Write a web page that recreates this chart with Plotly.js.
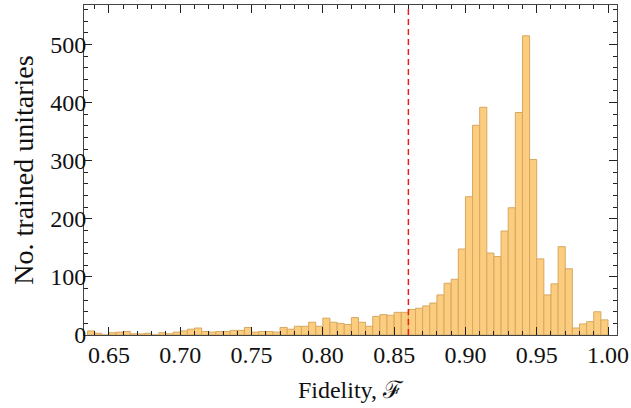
<!DOCTYPE html>
<html>
<head>
<meta charset="utf-8">
<script src="https://cdn.plot.ly/plotly-3.0.1.min.js"></script>
<style>html,body{margin:0;padding:0;background:#fff;}#chart{width:631px;height:408px;}</style>
</head>
<body>
<div id="chart"></div>
<script>
// Left edges of the histogram bins (bin width 0.005)
const binStarts = [
  0.635, 0.640, 0.645, 0.650, 0.655, 0.660, 0.665, 0.670, 0.675, 0.680,
  0.685, 0.690, 0.695, 0.700, 0.705, 0.710, 0.715, 0.720, 0.725, 0.730,
  0.735, 0.740, 0.745, 0.750, 0.755, 0.760, 0.765, 0.770, 0.775, 0.780,
  0.785, 0.790, 0.795, 0.800, 0.805, 0.810, 0.815, 0.820, 0.825, 0.830,
  0.835, 0.840, 0.845, 0.850, 0.855, 0.860, 0.865, 0.870, 0.875, 0.880,
  0.885, 0.890, 0.895, 0.900, 0.905, 0.910, 0.915, 0.920, 0.925, 0.930,
  0.935, 0.940, 0.945, 0.950, 0.955, 0.960, 0.965, 0.970, 0.975, 0.980,
  0.985, 0.990, 0.995
];
const binWidth = 0.005;
// Number of trained unitaries in each bin
const counts = [
  7, 3, 0, 4, 5, 6, 2, 2, 3, 0,
  4, 2, 5, 7, 10, 12, 6, 5, 6, 6,
  8, 8, 13, 5, 6, 6, 5, 13, 10, 15,
  15, 22, 15, 29, 22, 20, 18, 30, 22, 15,
  32, 35, 34, 39, 39, 44, 46, 50, 55, 69,
  89, 96, 148, 238, 361, 392, 141, 135, 179, 219,
  383, 515, 302, 131, 69, 88, 152, 114, 12, 19,
  23, 40, 26
];
// Threshold fidelity (dashed line)
const thresholdFidelity = [0.86];

const xTickVals = [0.65, 0.70, 0.75, 0.80, 0.85, 0.90, 0.95, 1.00];
const xTickText = ["0.65", "0.70", "0.75", "0.80", "0.85", "0.90", "0.95", "1.00"];
const yTickVals = [0, 100, 200, 300, 400, 500];
const yTickText = ["0", "100", "200", "300", "400", "500"];

const FONT = "'Liberation Serif', 'DejaVu Serif', serif";

const trace = {
  type: 'bar',
  x: binStarts,
  y: counts,
  width: binStarts.map(() => binWidth),
  offset: 0,
  marker: {
    color: 'rgb(252,205,126)',
    line: {color: 'rgb(214,168,96)', width: 1}
  },
  hoverinfo: 'x+y'
};

const axisCommon = {
  showline: true,
  linecolor: '#444',
  linewidth: 1,
  mirror: 'allticks',
  ticks: 'inside',
  tickcolor: '#222',
  tickwidth: 1,
  ticklen: 8,
  showgrid: false,
  zeroline: false,
  tickfont: {family: FONT, size: 24, color: '#111'}
};

const layout = {
  width: 631,
  height: 408,
  margin: {l: 84, r: 14, t: 5, b: 73},
  paper_bgcolor: '#fff',
  plot_bgcolor: '#fff',
  showlegend: false,
  bargap: 0,
  xaxis: Object.assign({}, axisCommon, {
    range: [0.6325, 1.0063],
    tickmode: 'array',
    tickvals: xTickVals,
    ticktext: xTickText,
    ticklabelstandoff: -2,
    minor: {dtick: 0.01, tick0: 0.65, ticks: 'inside', ticklen: 4, tickcolor: '#222', tickwidth: 1, showgrid: false},
    title: {text: 'Fidelity, ℱ', font: {family: FONT, size: 24, color: '#111'}, standoff: 14}
  }),
  yaxis: Object.assign({}, axisCommon, {
    range: [0, 568],
    tickmode: 'array',
    tickvals: yTickVals,
    ticktext: yTickText,
    ticklabelstandoff: -8,
    minor: {dtick: 20, tick0: 0, ticks: 'inside', ticklen: 4, tickcolor: '#222', tickwidth: 1, showgrid: false},
    title: {text: 'No. trained unitaries', font: {family: FONT, size: 28, color: '#111'}, standoff: 8}
  }),
  shapes: thresholdFidelity.map(v => ({
    type: 'line', xref: 'x', yref: 'paper',
    x0: v, x1: v, y0: 0, y1: 1,
    line: {color: 'rgb(230,30,30)', width: 1.5, dash: '6px,4px'}
  }))
};

Plotly.newPlot('chart', [trace], layout, {displayModeBar: false, staticPlot: true});
</script>
</body>
</html>
